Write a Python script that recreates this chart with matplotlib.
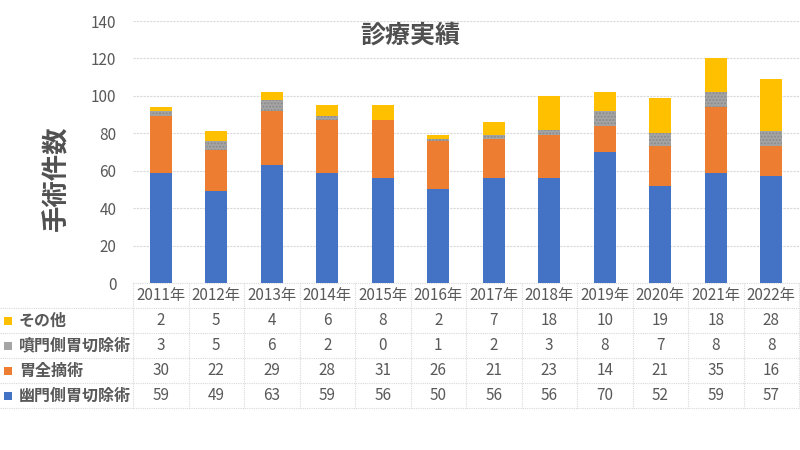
import matplotlib
matplotlib.use("Agg")
import matplotlib.pyplot as plt
import matplotlib.transforms as transforms

plt.rcParams['font.family'] = ['Noto Sans CJK JP', 'DejaVu Sans']

years = ['2011年', '2012年', '2013年', '2014年', '2015年', '2016年',
         '2017年', '2018年', '2019年', '2020年', '2021年', '2022年']
pylorus = [59, 49, 63, 59, 56, 50, 56, 56, 70, 52, 59, 57]
total = [30, 22, 29, 28, 31, 26, 21, 23, 14, 21, 35, 16]
cardia = [3, 5, 6, 2, 0, 1, 2, 3, 8, 7, 8, 8]
other = [2, 5, 4, 6, 8, 2, 7, 18, 10, 19, 18, 28]

series_names = ['幽門側胃切除術', '胃全摘術', '噴門側胃切除術', 'その他']
colors = ['#4472C4', '#ED7D31', '#A5A5A5', '#FFC000']
text_col = '#595959'
grid_col = '#D9D9D9'

fig = plt.figure(figsize=(8, 4.5), dpi=100)
ax = fig.add_axes([133 / 800, 1 - 283 / 450, 666 / 800, 262 / 450])

x = list(range(len(years)))
series = [pylorus, total, cardia, other]
bottom = [0] * len(years)
for vals, c, name in zip(series, colors, series_names):
    kw = {}
    if name == '噴門側胃切除術':
        kw = dict(hatch='.....', edgecolor='#8A8A8A', linewidth=0)
    ax.bar(x, vals, width=0.39, bottom=bottom, color=c, zorder=3, **kw)
    bottom = [b + v for b, v in zip(bottom, vals)]

ax.set_xlim(-0.5, len(years) - 0.5)
ax.set_ylim(0, 140)
ax.set_yticks(range(0, 141, 20))
ax.tick_params(axis='y', length=0, labelsize=11, labelcolor=text_col, pad=12)
ax.set_xticks([])
ax.grid(axis='y', color=grid_col, linewidth=0.8, linestyle=(0, (2, 1)), zorder=0)
for s in ax.spines.values():
    s.set_visible(False)

ax.text(0.416, 0.945, '診療実績', transform=ax.transAxes, ha='center', va='center',
        fontsize=18, fontweight='bold', color='#505050')
fig.text(57 / 800, 1 - 178 / 450, '手術件数', rotation=90, ha='center', va='center',
         fontsize=19, fontweight='bold', color='#505050')

# data table under the chart
row_h = 25 / 262
trans = transforms.blended_transform_factory(ax.transData, ax.transAxes)
ftrans = transforms.blended_transform_factory(fig.transFigure, ax.transAxes)
line_kw = dict(color=grid_col, linewidth=0.8, linestyle=(0, (1, 1)), clip_on=False)

# header
ax.plot([-0.5, len(years) - 0.5], [0, 0], transform=trans, **line_kw)
for i, yr in enumerate(years):
    ax.text(i, -row_h / 2, yr, transform=trans, ha='center', va='center',
            fontsize=11, color=text_col)

rows = list(reversed(list(zip(series_names, colors, series))))
for r, (name, c, vals) in enumerate(rows):
    yc = -row_h * (r + 1.5)
    ax.plot([0, 1], [-row_h * (r + 1)] * 2, transform=ftrans, **line_kw)
    ax.scatter([8 / 800], [yc], s=28, marker='s', color=c, transform=ftrans,
               clip_on=False, linewidths=0)
    ax.text(19 / 800, yc, name, transform=ftrans, ha='left', va='center',
            fontsize=11.5, fontweight='bold', color=text_col)
    for i, v in enumerate(vals):
        ax.text(i, yc, str(v), transform=trans, ha='center', va='center',
                fontsize=11, color=text_col)
ax.plot([0, 1], [-row_h * 5] * 2, transform=ftrans, **line_kw)

for i in range(len(years) + 1):
    ax.plot([i - 0.5, i - 0.5], [0, -row_h * 5], transform=trans, **line_kw)

fig.savefig('out.png', dpi=100)
